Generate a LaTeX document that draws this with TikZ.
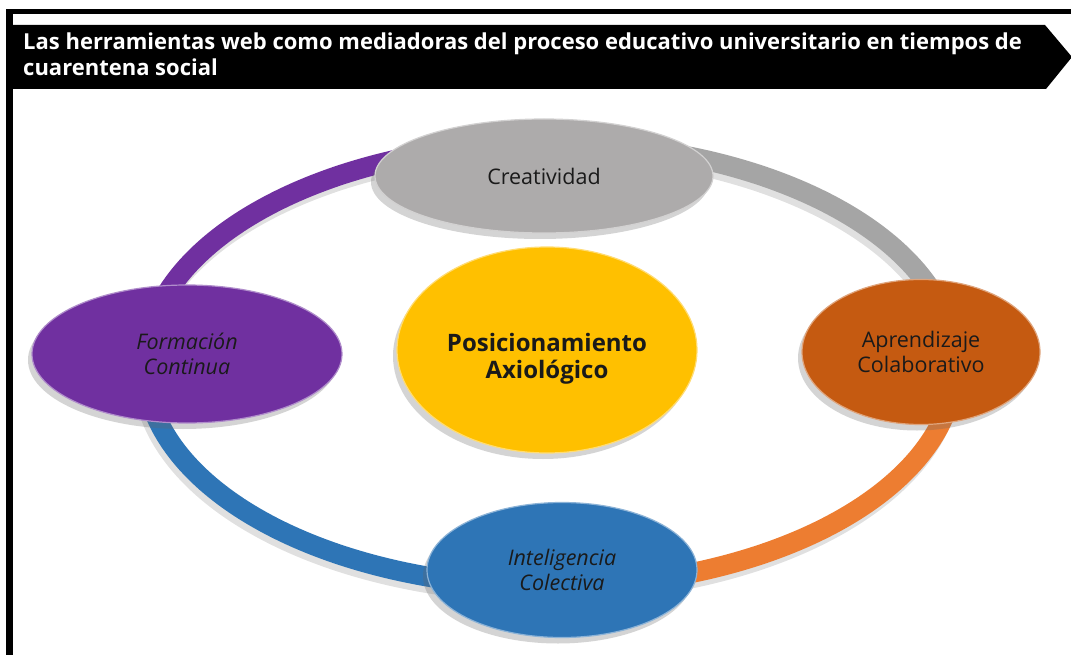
\documentclass[tikz,border=0pt]{standalone}
\usepackage{fontspec}
\setmainfont{Open Sans}
\usetikzlibrary{shapes.geometric,shadows}
\definecolor{cpurple}{HTML}{7030A0}
\definecolor{cgreyring}{HTML}{A5A5A5}
\definecolor{cgrey}{HTML}{ADABAB}
\definecolor{corangering}{HTML}{ED7D31}
\definecolor{corange}{HTML}{C55A11}
\definecolor{cblue}{HTML}{2E75B6}
\definecolor{cyellow}{HTML}{FFC000}
\definecolor{ctext}{HTML}{1A1A1A}
\tikzset{
  ringarc/.style={line width=20pt},
  ringshadow/.style={line width=20pt, black, opacity=0.12},
  blob/.style={ellipse, inner sep=0pt, align=center, text=ctext,
    font=\fontsize{21.5}{25}\selectfont, line width=1.2pt,
    drop shadow={shadow xshift=-4pt, shadow yshift=-6pt, opacity=0.28, fill=black!60}},
  blobtext/.style={inner sep=0pt, align=center, text=ctext},
}
\begin{document}
\begin{tikzpicture}[x=1pt,y=-1pt]
\useasboundingbox (0,0) rectangle (1071,655);
\fill[white] (0,0) rectangle (1071,655);
% frame
\fill[black] (6,9) rectangle (1071,14);
\fill[black] (6,9) rectangle (12.5,655);
% banner
\fill[black] (12,25) -- (1045,25) -- (1072,57) -- (1046,89) -- (12,89) -- cycle;
\node[anchor=north west, text=white, inner sep=0pt, align=left,
  font=\bfseries\fontsize{22}{26}\selectfont] (title) at (23,33)
  {Las herramientas web como mediadoras del proceso educativo universitario en tiempos de\\cuarentena social};
% ring shadows
\foreach \a/\b in {180/270,270/360,0/90,90/180}{
  \draw[ringshadow] plot[domain=\a:\b, samples=80] ({547+405*cos(\x)},{371+222*sin(\x)});
}
% ring arcs
\draw[ringarc, cpurple] plot[domain=180:270, samples=80] ({550+405*cos(\x)},{365+222*sin(\x)});
\draw[ringarc, cgreyring] plot[domain=270:360, samples=80] ({550+405*cos(\x)},{365+222*sin(\x)});
\draw[ringarc, corangering] plot[domain=0:90, samples=80] ({550+405*cos(\x)},{365+222*sin(\x)});
\draw[ringarc, cblue] plot[domain=90:180, samples=80] ({550+405*cos(\x)},{365+222*sin(\x)});
% nodes
\node[blob, fill=cgrey, draw=cgrey!55!white, minimum width=338pt, minimum height=114pt] (crea) at (544,176) {Creatividad};
\node[blob, fill=cpurple, draw=cpurple!55!white, minimum width=310pt, minimum height=138pt] (form) at (187,354) {\itshape Formación\\\itshape Continua};
\node[blob, fill=corange, draw=corange!55!white, minimum width=238pt, minimum height=145pt] (apre) at (921,352) {Aprendizaje\\Colaborativo};
\node[blob, fill=cblue, draw=cblue!55!white, minimum width=270pt, minimum height=135pt] (inte) at (562,570) {\itshape Inteligencia\\\itshape Colectiva};
\node[blob, fill=cyellow, draw=cyellow!55!white, minimum width=300pt, minimum height=206pt] (posi) at (547,350) {};
\node[blobtext, font=\bfseries\fontsize{24}{27}\selectfont] (posiText) at (547,359) {Posicionamiento\\Axiológico};
\end{tikzpicture}
\end{document}
